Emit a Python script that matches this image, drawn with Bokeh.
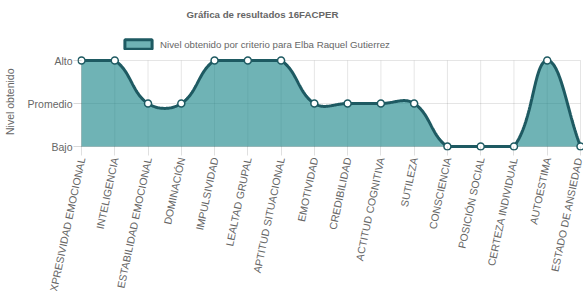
import numpy as np
from bokeh.plotting import figure
from bokeh.models import Range1d, FixedTicker, Legend, LegendItem, Label
from bokeh.embed import file_html
from bokeh.resources import INLINE

# ---------------- data ----------------
categories = ["EXPRESIVIDAD EMOCIONAL", "INTELIGENCIA", "ESTABILIDAD EMOCIONAL",
              "DOMINACIÓN", "IMPULSIVIDAD", "LEALTAD GRUPAL", "APTITUD SITUACIONAL",
              "EMOTIVIDAD", "CREDIBILIDAD", "ACTITUD COGNITIVA", "SUTILEZA",
              "CONSCIENCIA", "POSICIÓN SOCIAL", "CERTEZA INDIVIDUAL", "AUTOESTIMA",
              "ESTADO DE ANSIEDAD"]
level_labels = ["Bajo", "Promedio", "Alto"]
levels = [2, 2, 1, 1, 2, 2, 2, 1, 1, 1, 1, 0, 0, 0, 2, 0]
title_text = "Gráfica de resultados 16FACPER"
series_name = "Nivel obtenido por criterio para Elba Raquel Gutierrez"
y_title = "Nivel obtenido"

# ---------------- layout / style ----------------
FRAME_W, PAD = 507, 4
FRAME_LEFT = 76
FRAME_TOP, ALTO_PX, BAJO_PX, FRAME_BOTTOM = 0, 60, 146, 150
TITLE_CX, TITLE_CY = 261, 14
LEGEND_X, LEGEND_BOTTOM = 120, 50
Y_TITLE_SHIFT_SPACES = 18     # pushes the rotated axis title down to the middle of the levels
FONT = "Liberation Sans"
TXT = "#666666"
FILL = "#168488"
FILL_ALPHA = 0.62
LINE = "#1e5a62"
TENSION = 0.4

n = len(categories)
nl = len(level_labels)
xs = (FRAME_W - 2 * PAD) / (n - 1)          # px per category
ys = (BAJO_PX - ALTO_PX) / (nl - 1)         # px per level
frame_h = FRAME_BOTTOM - FRAME_TOP
y0 = -(FRAME_BOTTOM - BAJO_PX) / ys

# ---- Chart.js-like bezier smoothing (rendering of the data) ----
px = np.arange(n) * xs
py = np.array(levels, dtype=float) * ys
xmin, xmax, ymin, ymax = 0.0, (n - 1) * xs, 0.0, (nl - 1) * ys
cp_prev, cp_next = [], []
for i in range(n):
    pi = max(i - 1, 0)
    ni = min(i + 1, n - 1)
    d01 = np.hypot(px[i] - px[pi], py[i] - py[pi])
    d12 = np.hypot(px[ni] - px[i], py[ni] - py[i])
    tot = d01 + d12
    s01 = d01 / tot if tot else 0.0
    s12 = d12 / tot if tot else 0.0
    fa, fb = TENSION * s01, TENSION * s12
    dx, dy = px[ni] - px[pi], py[ni] - py[pi]
    a = (min(max(px[i] - fa * dx, xmin), xmax), min(max(py[i] - fa * dy, ymin), ymax))
    b = (min(max(px[i] + fb * dx, xmin), xmax), min(max(py[i] + fb * dy, ymin), ymax))
    cp_prev.append(a)
    cp_next.append(b)

cx, cy = [], []
t = np.linspace(0, 1, 40)
for i in range(n - 1):
    p0 = np.array([px[i], py[i]])
    p1 = np.array(cp_next[i])
    p2 = np.array(cp_prev[i + 1])
    p3 = np.array([px[i + 1], py[i + 1]])
    tt = t if i == 0 else t[1:]
    for u in tt:
        q = (1 - u) ** 3 * p0 + 3 * (1 - u) ** 2 * u * p1 + 3 * (1 - u) * u ** 2 * p2 + u ** 3 * p3
        cx.append(float(q[0] / xs))
        cy.append(float(q[1] / ys))

# ---------------- figure ----------------
p = figure(frame_width=FRAME_W, frame_height=frame_h,
           x_range=Range1d(-PAD / xs, n - 1 + PAD / xs),
           y_range=Range1d(y0, y0 + frame_h / ys),
           output_backend="svg", toolbar_location=None,
           min_border_left=FRAME_LEFT, min_border_right=0, min_border_top=FRAME_TOP, min_border_bottom=0)
p.outline_line_color = None
p.xgrid.visible = False
p.ygrid.visible = False

idx = list(range(n))
lv = list(range(nl))
# grid lines
p.segment(x0=idx, y0=[0] * n, x1=idx, y1=[nl - 1] * n, line_color="black", line_alpha=0.1, line_width=1)
p.segment(x0=[0] * nl, y0=lv, x1=[n - 1] * nl, y1=lv, line_color="black", line_alpha=0.1, line_width=1)
# axis borders
p.segment(x0=[0], y0=[0], x1=[0], y1=[nl - 1], line_color="black", line_alpha=0.1, line_width=1)
p.segment(x0=[0], y0=[0], x1=[n - 1], y1=[0], line_color="black", line_alpha=0.1, line_width=1)

p.varea(x=cx, y1=[0.0] * len(cx), y2=cy, fill_color=FILL, fill_alpha=FILL_ALPHA)
p.line(cx, cy, line_color=LINE, line_width=3)
p.scatter(x=idx, y=levels, size=7, fill_color="white", line_color=LINE, line_width=1.5)

nan = float("nan")
leg_r = p.quad(left=[nan], right=[nan], top=[nan], bottom=[nan], fill_color=FILL, fill_alpha=FILL_ALPHA,
               line_color=LINE, line_width=3)
legend = Legend(items=[LegendItem(label=series_name, renderers=[leg_r])],
                orientation="horizontal",
                location=(LEGEND_X - FRAME_LEFT, FRAME_BOTTOM - LEGEND_BOTTOM),
                glyph_width=34, glyph_height=12, label_height=12, label_standoff=5,
                label_text_font=FONT, label_text_font_size="9.7px", label_text_color=TXT,
                border_line_color=None, background_fill_alpha=0, padding=0, margin=0)
p.add_layout(legend)

title = Label(x=TITLE_CX - FRAME_LEFT, y=FRAME_BOTTOM - TITLE_CY, x_units="screen", y_units="screen",
              text=title_text, text_align="center", text_baseline="middle",
              text_font=FONT, text_font_size="9.7px", text_font_style="bold", text_color=TXT)
p.add_layout(title)

# axes
xa = p.xaxis[0]
xa.ticker = FixedTicker(ticks=idx)
xa.major_label_overrides = {i: c for i, c in enumerate(categories)}
xa.major_label_orientation = float(np.deg2rad(78))
xa.axis_line_color = None
xa.major_tick_in = 4
xa.major_tick_out = 5
xa.major_tick_line_color = "black"
xa.major_tick_line_alpha = 0.12
xa.minor_tick_line_color = None
xa.major_label_standoff = 2
xa.major_label_text_font = FONT
xa.major_label_text_font_size = "10.5px"
xa.major_label_text_color = TXT

ya = p.yaxis[0]
ya.ticker = FixedTicker(ticks=lv)
ya.major_label_overrides = {i: l for i, l in enumerate(level_labels)}
ya.axis_line_color = None
ya.major_tick_in = 4
ya.major_tick_out = 4
ya.major_tick_line_color = "black"
ya.major_tick_line_alpha = 0.15
ya.minor_tick_line_color = None
ya.major_label_standoff = 1
ya.major_label_text_font = FONT
ya.major_label_text_font_size = "10.5px"
ya.major_label_text_color = TXT
ya.axis_label = y_title + "\u00a0" * Y_TITLE_SHIFT_SPACES
ya.axis_label_text_font = FONT
ya.axis_label_text_font_size = "10.5px"
ya.axis_label_text_font_style = "normal"
ya.axis_label_text_color = TXT
ya.axis_label_standoff = 9

open("out.html", "w").write(file_html(p, INLINE))
